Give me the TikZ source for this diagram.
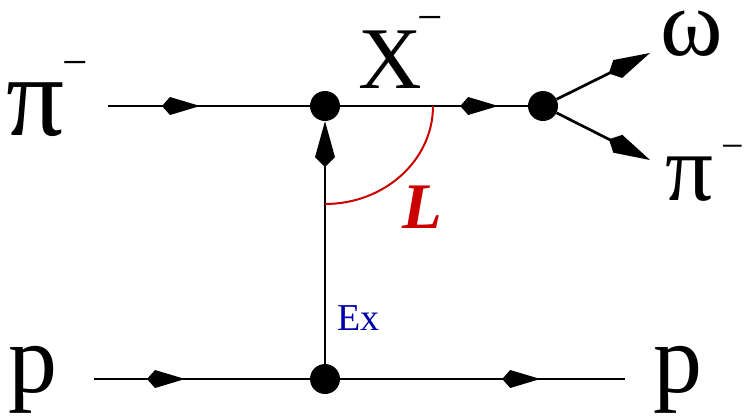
\documentclass[tikz,border=0pt]{standalone}
\usepackage{fontspec}
\setmainfont{Liberation Serif}
\usetikzlibrary{arrows.meta, decorations.markings}
\tikzstyle{prop} = [line width=2.7pt]
\tikzstyle{vtx} = [circle, fill, inner sep=0pt, minimum size=30pt]
\tikzstyle{endkite} = [prop, -{Kite[length=46pt, width=20pt, inset=10pt]}]
\tikzstyle{midkite} = [prop, postaction={decorate}, decoration={markings,
    mark=at position #1 with {\arrow{Kite[length=38pt, width=18pt, inset=8pt]}}}]
\tikzstyle{lbl} = [inner sep=0pt, anchor=base west]
\definecolor{arcred}{RGB}{204,0,0}
\definecolor{exblue}{RGB}{0,0,170}
\newcommand{\fs}[1]{\fontsize{#1}{#1}\selectfont}

\begin{document}
\begin{tikzpicture}[x=1pt, y=-1pt]
    \useasboundingbox (0,0) rectangle (756,416);
    % vertices
    \node[vtx] (v1) at (325,106) {};
    \node[vtx] (v2) at (543,106) {};
    \node[vtx] (v3) at (325,379) {};
    \coordinate (pin) at (108,106);
    \coordinate (pa) at (94,379);
    \coordinate (pb) at (625,379);
    \coordinate (wo) at (650,53);
    \coordinate (po) at (650,160);
    % lines
    \draw[midkite=92pt] (pin) -- (v1);
    \draw[midkite=158pt] (v1) -- (v2);
    \draw[midkite=91pt] (pa) -- (v3);
    \draw[midkite=200pt] (v3) -- (pb);
    \draw[endkite] (v3) -- (v1);
    \draw[endkite] (v2) -- (wo);
    \draw[endkite] (v2) -- (po);
    \draw[arcred, line width=2pt] ([xshift=108pt]v1.center)
      arc[start angle=0, end angle=90, x radius=108, y radius=98];
    % labels
    \node[lbl] (tpi) at (6,135) {\fs{115}π\kern-2pt\raisebox{58pt}{\fs{45}−}};
    \node[lbl] (tx) at (358,88) {\fs{88}X\kern-4pt\raisebox{56pt}{\fs{45}−}};
    \node[lbl] (tw) at (660,55) {\fs{95}ω};
    \node[lbl] (tpo) at (665,200) {\fs{95}π\kern8pt\raisebox{41pt}{\fs{40}−}};
    \node[lbl] (tpa) at (8,392) {\fs{98}p};
    \node[lbl] (tpb) at (653,392) {\fs{98}p};
    \node[lbl, exblue] (tex) at (337,330) {\fs{38}Ex};
    \node[lbl, arcred] (tl) at (402,228) {\fs{65}\bfseries\itshape L};
\end{tikzpicture}
\end{document}
